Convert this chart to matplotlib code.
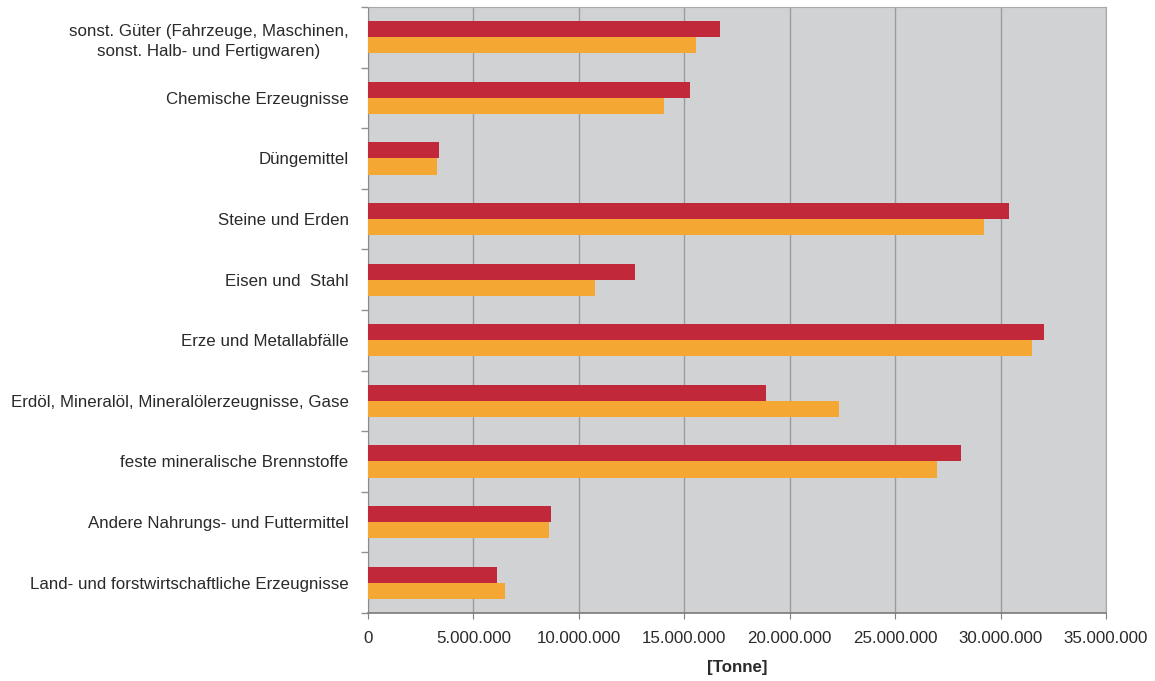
import matplotlib
matplotlib.use("Agg")
import matplotlib.pyplot as plt
import numpy as np
from matplotlib.ticker import FuncFormatter, FixedLocator

plt.rcParams['font.family'] = ['Liberation Sans', 'DejaVu Sans']

# Gütergruppen, von oben nach unten
kategorien = [
    "sonst. Güter (Fahrzeuge, Maschinen,\nsonst. Halb- und Fertigwaren)",
    "Chemische Erzeugnisse",
    "Düngemittel",
    "Steine und Erden",
    "Eisen und  Stahl",
    "Erze und Metallabfälle",
    "Erdöl, Mineralöl, Mineralölerzeugnisse, Gase",
    "feste mineralische Brennstoffe",
    "Andere Nahrungs- und Futtermittel",
    "Land- und forstwirtschaftliche Erzeugnisse",
]

# Tonnen je Gütergruppe, zwei Zeiträume
werte_a = [16.7e6, 15.28e6, 3.37e6, 30.42e6, 12.67e6, 32.08e6, 18.89e6, 28.1e6, 8.69e6, 6.12e6]
werte_b = [15.57e6, 14.05e6, 3.27e6, 29.19e6, 10.77e6, 31.47e6, 22.35e6, 27.0e6, 8.59e6, 6.5e6]

x_ticks = [0, 5e6, 10e6, 15e6, 20e6, 25e6, 30e6, 35e6]

fig = plt.figure(figsize=(11.55, 6.81), dpi=100)
ax = fig.add_axes([0.3186, 0.0999, 0.6390, 0.8899])
ax.set_facecolor('#d1d2d4')

n = len(kategorien)
pos = np.arange(n)
h = 0.265
ax.barh(pos - h / 2, werte_a, height=h, color='#c1283a', zorder=3)
ax.barh(pos + h / 2, werte_b, height=h, color='#f5a733', zorder=3)

ax.set_ylim(n - 0.5, -0.5)
ax.set_xlim(0, 35e6)

ax.xaxis.set_major_locator(FixedLocator(x_ticks))
ax.xaxis.set_major_formatter(FuncFormatter(lambda v, _: f"{v:,.0f}".replace(",", ".")))
ax.grid(axis='x', color='#9c9c9e', linewidth=1.0, zorder=1)

ax.set_yticks(pos)
ax.set_yticklabels(kategorien, fontsize=12.2, color='#2a2a2a', ha='right',
                   multialignment='center', linespacing=1.45)
ax.set_yticks(np.arange(n + 1) - 0.5, minor=True)
ax.tick_params(axis='y', which='major', length=0, pad=14)
ax.tick_params(axis='y', which='minor', length=5, color='#909090', width=1)
ax.tick_params(axis='x', length=4, color='#808080', labelsize=12.2, labelcolor='#2a2a2a', pad=9)

for s in ('top', 'right'):
    ax.spines[s].set_color('#a8a8aa')
ax.spines['left'].set_color('#8c8c8e')
ax.spines['bottom'].set_color('#7a7a7a')
ax.spines['bottom'].set_linewidth(1.2)

ax.set_xlabel('[Tonne]', fontsize=12.2, fontweight='bold', color='#2a2a2a', labelpad=10)

fig.savefig('out.png', dpi=100, facecolor='white')
